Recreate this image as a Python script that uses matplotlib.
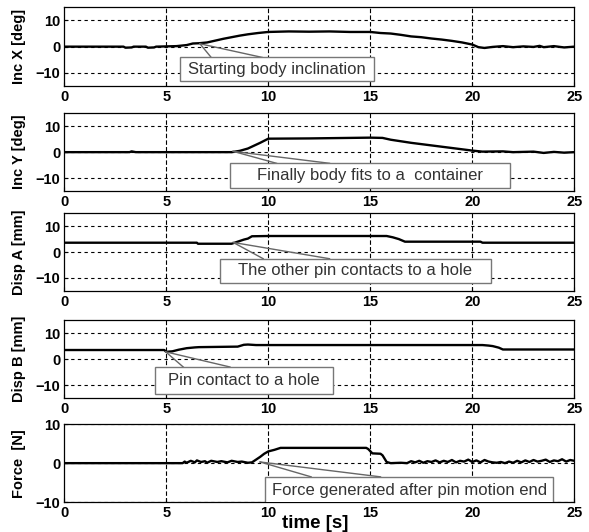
import matplotlib
matplotlib.use("Agg")
import matplotlib.pyplot as plt
from matplotlib.patches import Rectangle

plt.rcParams["font.family"] = ["Liberation Sans", "DejaVu Sans"]

# ── Data ──────────────────────────────────────────────────────────────────────
inc_x_t = [0, 2.9, 3.0, 3.3, 3.4, 4.0, 4.1, 4.4, 4.5, 5.5, 6.0, 6.3, 6.6, 7.0,
           7.4, 7.8, 8.2, 8.6, 9.0, 9.5, 10.0, 11.0, 12.0, 13.0, 14.0, 15.0,
           15.5, 16.0, 16.5, 17.0, 17.5, 18.0, 18.5, 19.0, 19.5, 20.0, 20.3,
           20.6, 21.0, 21.5, 22.0, 22.5, 23.0, 23.3, 23.5, 24.0, 24.5, 25.0]
inc_x = [0, 0, -0.4, -0.3, 0, 0, -0.4, -0.3, 0, 0.2, 0.6, 1.2, 1.3, 1.6,
         2.3, 3.0, 3.6, 4.2, 4.7, 5.2, 5.6, 5.8, 5.7, 5.8, 5.6, 5.6,
         5.2, 5.0, 4.5, 3.9, 3.6, 3.1, 2.7, 2.2, 1.6, 0.8, -0.2,
         -0.5, -0.1, 0.2, -0.2, 0.1, -0.1, 0.3, -0.2, 0.2, -0.3, 0]

inc_y_t = [0, 3.2, 3.3, 3.5, 8.2, 8.6, 9.0, 9.3, 9.6, 10.0, 12.0, 15.0, 15.6,
           16.0, 16.5, 17.0, 18.0, 19.0, 20.0, 20.5, 21.5, 22.0, 23.0, 23.5,
           24.0, 24.5, 25.0]
inc_y = [0, 0, 0.3, 0, 0, 0.5, 1.4, 2.5, 3.6, 5.2, 5.3, 5.6, 5.5,
         4.8, 4.2, 3.6, 2.6, 1.6, 0.6, 0.2, 0.3, 0.0, 0.2, -0.3,
         0.1, -0.2, 0]

disp_a_t = [0, 6.5, 6.55, 8.2, 8.5, 8.8, 9.0, 9.2, 10.0, 15.8, 16.1, 16.4,
            16.7, 20.4, 20.5, 25.0]
disp_a = [3.6, 3.6, 3.2, 3.2, 4.0, 4.8, 5.2, 6.1, 6.2, 6.2, 5.7, 5.0,
          4.0, 4.0, 3.6, 3.6]

disp_b_t = [0, 4.9, 5.0, 5.3, 5.6, 6.0, 6.4, 6.6, 8.5, 8.8, 9.0, 9.4, 20.5,
            20.8, 21.0, 21.3, 21.5, 25.0]
disp_b = [3.5, 3.5, 2.8, 3.0, 3.6, 4.2, 4.5, 4.6, 4.8, 5.5, 5.6, 5.4, 5.4,
          5.2, 5.0, 4.4, 3.7, 3.7]

force_t = [0, 5.8, 5.9, 6.0, 6.2, 6.4, 6.5, 6.7, 6.9, 7.0, 7.2, 7.5, 7.7,
           8.0, 8.2, 8.5, 8.7, 9.0, 9.2, 9.4, 9.6, 9.8, 10.0, 10.3, 10.6,
           14.8, 14.9, 15.1, 15.5, 15.6, 15.8, 16.0, 16.5, 16.8, 17.0, 17.2,
           17.4, 17.6, 17.8, 18.0, 18.2, 18.4, 18.6, 18.8, 19.0, 19.2, 19.4,
           19.6, 19.8, 20.0, 20.2, 20.4, 20.6, 20.8, 21.0, 21.2, 21.4, 21.6,
           21.8, 22.0, 22.2, 22.4, 22.6, 22.8, 23.0, 23.2, 23.4, 23.6, 23.8,
           24.0, 24.2, 24.4, 24.6, 24.8, 25.0]
force = [0, 0, 0.4, 0.1, 0.6, 0.2, 0.7, 0.3, 0.5, 0.1, 0.6, 0.3, 0.5,
         0.2, 0.6, 0.3, 0.4, 0.1, 0.2, 0.9, 1.6, 2.4, 3.0, 3.4, 3.9,
         3.9, 3.6, 2.5, 2.4, 2.0, 0.3, 0, 0.1, 0.0, 0.5, 0.2,
         0.6, 0.1, 0.5, 0.3, 0.7, 0.2, 0.6, 0.3, 0.8, 0.2, 0.6,
         0.4, 0.9, 0.3, 0.7, 0.2, 0.8, 0.4, 0.2, 0.1, 0.3, 0.0,
         0.4, 0.1, 0.6, 0.2, 0.7, 0.3, 0.8, 0.4, 0.6, 0.9, 0.3,
         0.7, 0.5, 1.0, 0.4, 0.8, 0.6]

series = [(inc_x_t, inc_x), (inc_y_t, inc_y), (disp_a_t, disp_a),
          (disp_b_t, disp_b), (force_t, force)]
ylabels = ["Inc X [deg]", "Inc Y [deg]", "Disp A [mm]", "Disp B [mm]",
           "Force  [N]"]
ylims = [(-15, 15), (-15, 15), (-15, 15), (-15, 15), (-10, 10)]
xticks = [0, 5, 10, 15, 20, 25]
yticks = [-10, 0, 10]

notes = [
    "Starting body inclination",
    "Finally body fits to a  container",
    "The other pin contacts to a hole",
    "Pin contact to a hole",
    "Force generated after pin motion end",
]

# callout geometry: box (x0, y0, x1, y1), tip (x, y), base x positions
boxes = [(5.67, -13.2, 15.2, -4.1), (8.12, -14.0, 21.85, -4.3),
         (7.63, -12.0, 20.9, -2.6), (4.45, -13.2, 13.15, -3.0),
         (9.84, -10.3, 23.97, -3.5)]
tips = [(6.65, 1.1), (8.28, 0.3), (8.28, 3.7), (4.97, 2.8), (9.6, 0.3)]
bases = [(7.2, 9.7), (10.4, 13.0), (9.75, 13.0), (5.83, 8.12), (12.1, 15.5)]

# axes rectangles in pixels (top, bottom) on a 589x532 canvas
rows = [(7.3, 86.0), (113.3, 191.0), (213.3, 290.7), (320.0, 398.3),
        (424.0, 502.3)]
W, H = 589, 532
X0, X1 = 64.3, 574.3


def draw_panel(ax, i):
    t, v = series[i]
    ax.plot(t, v, color="black", lw=1.7, zorder=3)
    ax.set_xlim(0, 25)
    ax.set_ylim(*ylims[i])
    ax.set_xticks(xticks)
    ax.set_yticks(yticks)
    ax.tick_params(direction="in", length=3, labelsize=10.5, pad=3)
    for lab in ax.get_xticklabels() + ax.get_yticklabels():
        lab.set_fontweight("bold")
    for yv in yticks:
        ax.axhline(yv, color="black", lw=0.8, ls=(0, (3, 3)), zorder=1)
    for xv in xticks[1:-1]:
        ax.axvline(xv, color="black", lw=0.8, ls=(0, (4, 2)), zorder=1)
    for s in ax.spines.values():
        s.set_linewidth(0.9)
    ax.set_ylabel(ylabels[i], fontsize=10.5, fontweight="bold")
    ax.yaxis.set_label_coords(-0.075, 0.5)

    # callout
    x0, y0, x1, y1 = boxes[i]
    ax.add_patch(Rectangle((x0, y0), x1 - x0, y1 - y0, facecolor="white",
                           edgecolor="#777777", lw=1.0, zorder=5))
    ax.text((x0 + x1) / 2, (y0 + y1) / 2, notes[i], ha="center", va="center",
            fontsize=12, color="#333333", zorder=6)
    tx, ty = tips[i]
    for bx in bases[i]:
        ax.plot([tx, bx], [ty, y1], color="#666666", lw=1.0, zorder=4)


def main():
    fig = plt.figure(figsize=(W / 100, H / 100), dpi=100)
    for i, (top, bot) in enumerate(rows):
        ax = fig.add_axes([X0 / W, 1 - bot / H, (X1 - X0) / W, (bot - top) / H])
        draw_panel(ax, i)
    fig.text(315 / W, 1 - 523 / H, "time [s]", ha="center", va="center",
             fontsize=13.5, fontweight="bold")
    fig.savefig("out.png", dpi=100)


if __name__ == "__main__":
    main()
